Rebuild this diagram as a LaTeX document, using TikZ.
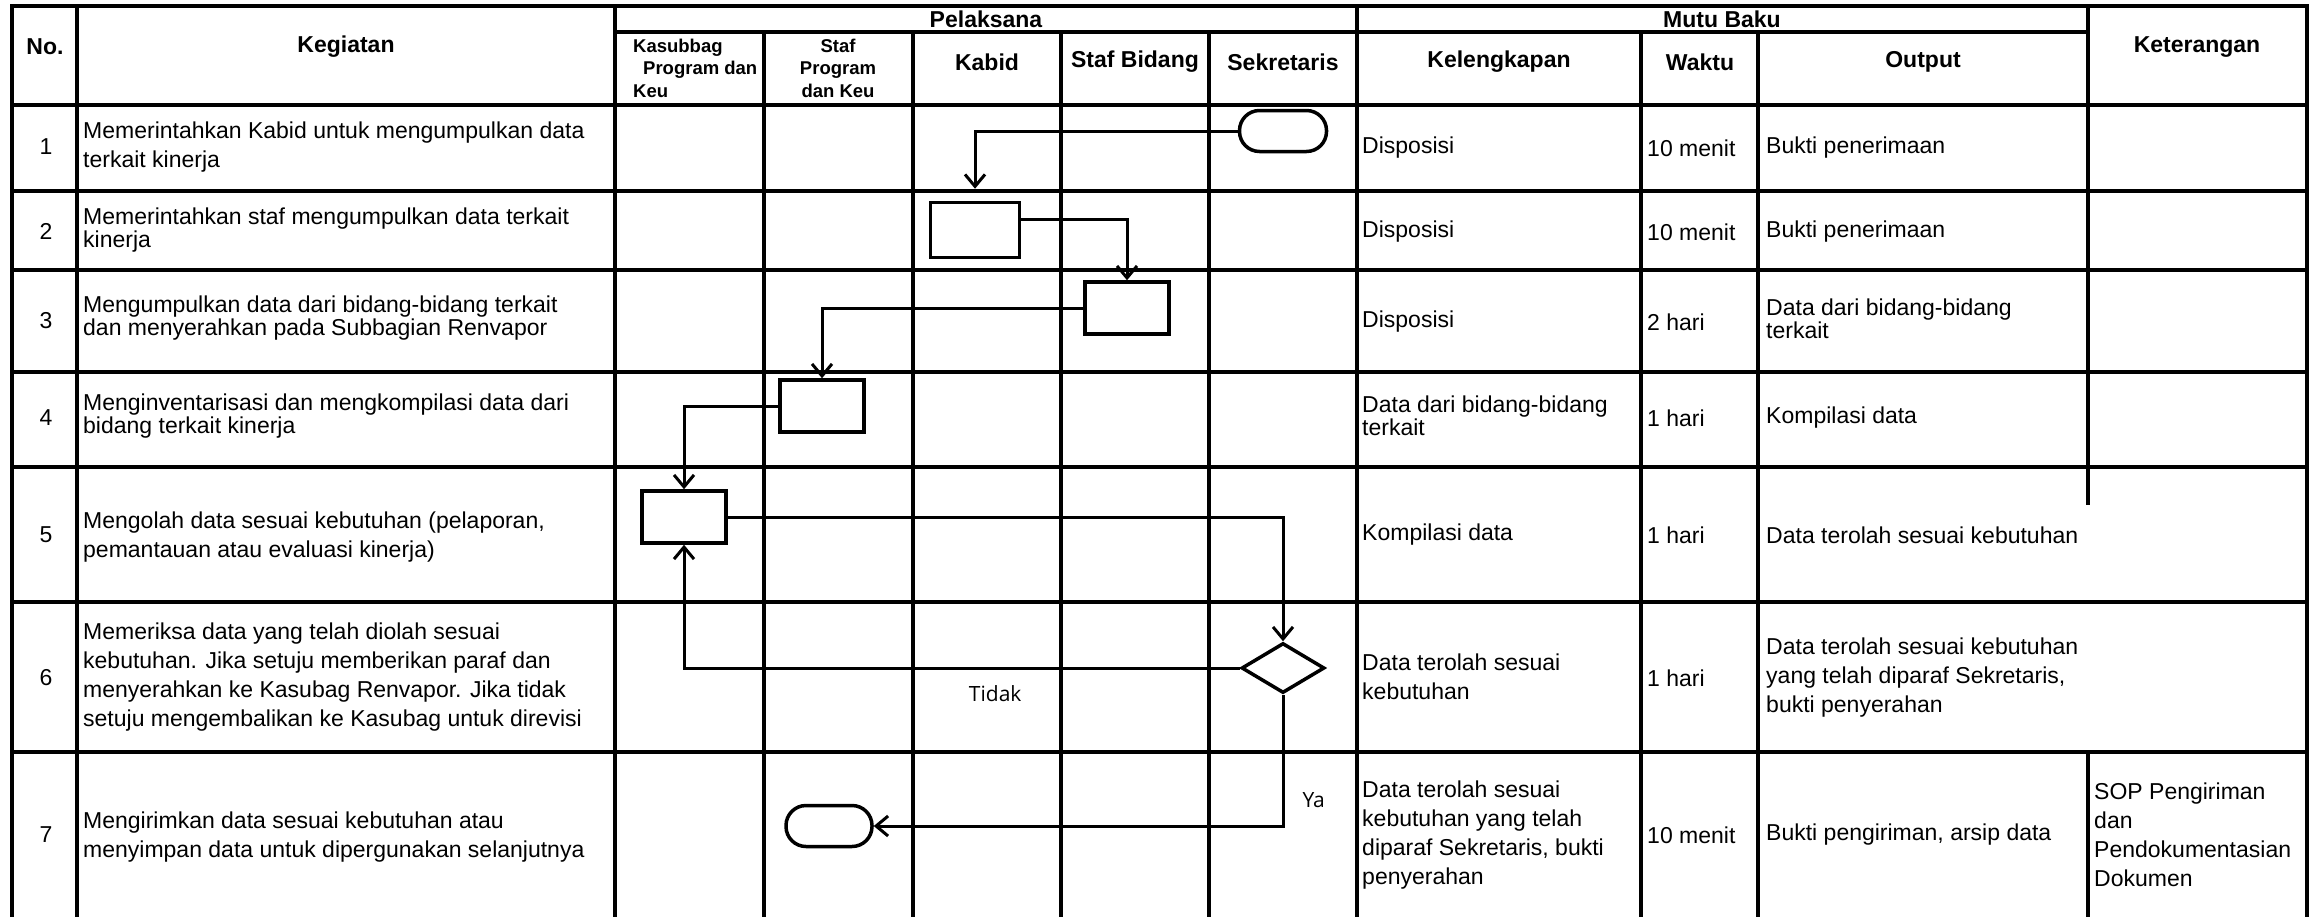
\documentclass[tikz,border=0pt]{standalone}
\usepackage{fontspec}
\setmainfont{Liberation Sans}
\newfontfamily\tagfont{Open Sans}
\usetikzlibrary{arrows.meta, positioning, shapes.geometric}

\begin{document}
\begin{tikzpicture}[x=1pt, y=-1pt,
    grid/.style={line width=4pt, line cap=rect},
    head/.style={font=\bfseries\fontsize{23}{27}\selectfont, inner sep=0pt, align=center},
    subhead/.style={font=\bfseries\fontsize{18.5}{22.5}\selectfont, inner sep=0pt},
    num/.style={font=\fontsize{23}{29}\selectfont, inner sep=0pt},
    cell/.style={font=\fontsize{23}{29}\selectfont, inner sep=0pt, anchor=west, align=left},
    tight/.style={font=\fontsize{23}{23.5}\selectfont, inner sep=0pt, anchor=west, align=left},
    proc/.style={draw, line width=3.5pt, minimum width=84pt, minimum height=52pt, inner sep=0pt},
    term/.style={draw, line width=3.5pt, rounded corners=20pt, minimum width=87pt, minimum height=41pt, inner sep=0pt},
    decision/.style={draw, diamond, line width=3.5pt, minimum width=83pt, minimum height=50pt, inner sep=0pt},
    flow/.style={line width=3pt, -{Straight Barb[length=12pt, width=20pt]}},
    tag/.style={font=\tagfont\fontsize{21}{25}\selectfont, inner sep=0pt}]

    \path[use as bounding box, fill=white] (0,0) rectangle (2312,916);

    \draw[grid] (12,6) -- (2307,6);
    \draw[grid] (615,32) -- (2088,32);
    \draw[grid] (12,105) -- (2307,105);
    \draw[grid] (12,191) -- (2307,191);
    \draw[grid] (12,270) -- (2307,270);
    \draw[grid] (12,372) -- (2307,372);
    \draw[grid] (12,467) -- (2307,467);
    \draw[grid] (12,602) -- (2307,602);
    \draw[grid] (12,752) -- (2307,752);

    \draw[grid] (12,6) -- (12,916);
    \draw[grid] (77,6) -- (77,916);
    \draw[grid] (615,6) -- (615,916);
    \draw[grid] (764,32) -- (764,916);
    \draw[grid] (913,32) -- (913,916);
    \draw[grid] (1061,32) -- (1061,916);
    \draw[grid] (1209,32) -- (1209,916);
    \draw[grid] (1357,6) -- (1357,916);
    \draw[grid] (1641,32) -- (1641,916);
    \draw[grid] (1758,32) -- (1758,916);
    \draw[grid] (2088,6) -- (2088,503);
    \draw[grid] (2088,752) -- (2088,916);
    \draw[grid] (2307,6) -- (2307,916);

    \node[head] (No)          at (45,47)    {No.};
    \node[head] (Kegiatan)    at (346,47)   {Kegiatan};
    \node[head] (Pelaksana)   at (986,19)   {Pelaksana};
    \node[head] (Mutu Baku)   at (1722,19)  {Mutu Baku};
    \node[head] (Keterangan)  at (2197,47)  {Keterangan};
    \node[subhead, anchor=west, align=left] (Kasubbag) at (633,68) {Kasubbag\\\hspace*{10pt}Program dan\\Keu};
    \node[subhead, align=center] (Staf Program) at (838,68) {Staf\\Program\\dan Keu};
    \node[head] (Kabid)       at (987,62)   {Kabid};
    \node[head] (Staf Bidang) at (1135,62)  {Staf Bidang};
    \node[head] (Sekretaris)  at (1283,62)  {Sekretaris};
    \node[head] (Kelengkapan) at (1499,62)  {Kelengkapan};
    \node[head] (Waktu)       at (1700,62)  {Waktu};
    \node[head] (Output)      at (1923,62)  {Output};

    \node[num] (No 1) at (46,147) {1};
    \node[num] (No 2) at (46,231) {2};
    \node[num] (No 3) at (46,321) {3};
    \node[num] (No 4) at (46,418) {4};
    \node[num] (No 5) at (46,535) {5};
    \node[num] (No 6) at (46,678) {6};
    \node[num] (No 7) at (46,835) {7};

    \node[cell]  (Kegiatan 1) at (83,147) {Memerintahkan Kabid untuk mengumpulkan data\\terkait kinerja};
    \node[tight] (Kegiatan 2) at (83,230) {Memerintahkan staf mengumpulkan data terkait\\kinerja};
    \node[tight] (Kegiatan 3) at (83,318) {Mengumpulkan data dari bidang-bidang terkait\\dan menyerahkan pada Subbagian Renvapor};
    \node[tight] (Kegiatan 4) at (83,416) {Menginventarisasi dan mengkompilasi data dari\\bidang terkait kinerja};
    \node[cell]  (Kegiatan 5) at (83,537) {Mengolah data sesuai kebutuhan (pelaporan,\\pemantauan atau evaluasi kinerja)};
    \node[cell]  (Kegiatan 6) at (83,677) {Memeriksa data yang telah diolah sesuai\\kebutuhan. Jika setuju memberikan paraf dan\\menyerahkan ke Kasubag Renvapor. Jika tidak\\setuju mengembalikan ke Kasubag untuk direvisi};
    \node[cell]  (Kegiatan 7) at (83,837) {Mengirimkan data sesuai kebutuhan atau\\menyimpan data untuk dipergunakan selanjutnya};

    \node[cell]  (Kelengkapan 1) at (1362,148) {Disposisi};
    \node[cell]  (Kelengkapan 2) at (1362,232) {Disposisi};
    \node[cell]  (Kelengkapan 3) at (1362,322) {Disposisi};
    \node[tight] (Kelengkapan 4) at (1362,416) {Data dari bidang-bidang\\terkait};
    \node[cell]  (Kelengkapan 5) at (1362,535) {Kompilasi data};
    \node[cell]  (Kelengkapan 6) at (1362,677) {Data terolah sesuai\\kebutuhan};
    \node[cell]  (Kelengkapan 7) at (1362,835) {Data terolah sesuai\\kebutuhan yang telah\\diparaf Sekretaris, bukti\\penyerahan};

    \node[cell] (Waktu 1) at (1647,148) {10 menit};
    \node[cell] (Waktu 2) at (1647,232) {10 menit};
    \node[cell] (Waktu 3) at (1647,322) {2 hari};
    \node[cell] (Waktu 4) at (1647,418) {1 hari};
    \node[cell] (Waktu 5) at (1647,535) {1 hari};
    \node[cell] (Waktu 6) at (1647,678) {1 hari};
    \node[cell] (Waktu 7) at (1647,835) {10 menit};

    \node[cell]  (Output 1) at (1766,148) {Bukti penerimaan};
    \node[cell]  (Output 2) at (1766,232) {Bukti penerimaan};
    \node[tight] (Output 3) at (1766,319) {Data dari bidang-bidang\\terkait};
    \node[cell]  (Output 4) at (1766,418) {Kompilasi data};
    \node[cell]  (Output 5) at (1766,535) {Data terolah sesuai kebutuhan};
    \node[cell]  (Output 6) at (1766,678) {Data terolah sesuai kebutuhan\\yang telah diparaf Sekretaris,\\bukti penyerahan};
    \node[cell]  (Output 7) at (1766,835) {Bukti pengiriman, arsip data};

    \node[cell] (Keterangan 7) at (2094,835) {SOP Pengiriman\\dan\\Pendokumentasian\\Dokumen};

    \node[term] (Start) at (1283,131) {};
    \node[proc, minimum width=89pt, minimum height=55pt] (Kabid Box) at (975,230) {};
    \node[proc] (Staf Bidang Box)  at (1127,308) {};
    \node[proc] (Staf Program Box) at (822,406) {};
    \node[proc] (Kasubbag Box)     at (684,517) {};
    \node[decision] (Sekretaris Check) at (1283,668) {};
    \node[term, minimum width=86pt] (End) at (829,826) {};

    \draw[flow, shorten >=12pt] (Start.west) -| (Kabid Box.north);
    \draw[flow] ([yshift=11pt]Kabid Box.east) -| (Staf Bidang Box.north);
    \draw[flow] (Staf Bidang Box.west) -| (Staf Program Box.north);
    \draw[flow] (Staf Program Box.west) -| (Kasubbag Box.north);
    \draw[flow] (Kasubbag Box.east) -| (Sekretaris Check.north);
    \draw[flow] (Sekretaris Check.west) -| (Kasubbag Box.south)
        node[tag, pos=0.22, below=16pt] (Tidak) {Tidak};
    \draw[flow] (Sekretaris Check.south) |- (End.east)
        node[tag, pos=0.4, right=18pt] (Ya) {Ya};
\end{tikzpicture}
\end{document}
